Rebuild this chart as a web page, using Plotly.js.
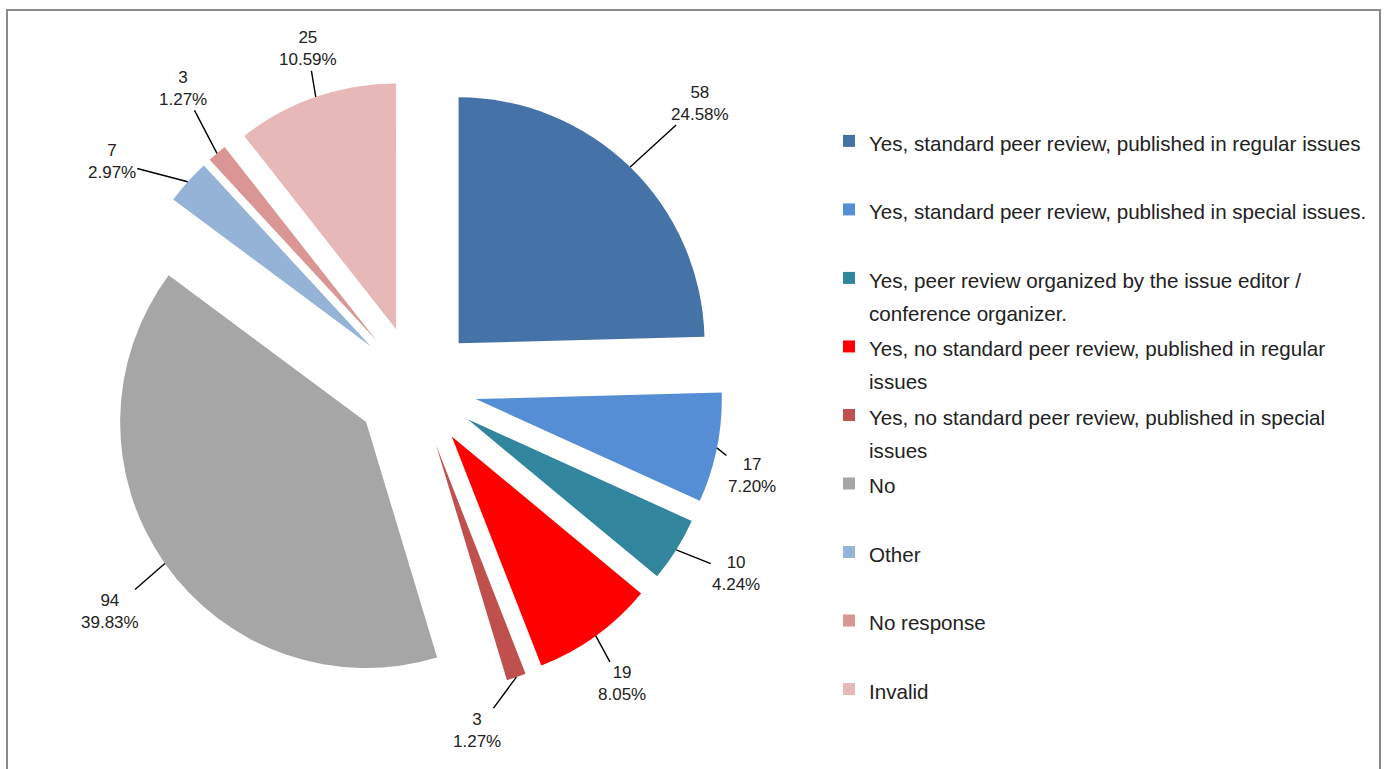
<!DOCTYPE html>
<html>
<head>
<meta charset="utf-8">
<script src="https://cdn.plot.ly/plotly-3.0.1.min.js"></script>
<style>html,body{margin:0;padding:0;background:#fff;}#chart{width:1384px;height:769px;}</style>
</head>
<body>
<div id="chart"></div>
<script>
// ---- data ----
const categories = [
  "Yes, standard peer review, published in regular issues",
  "Yes, standard peer review, published in special issues.",
  "Yes, peer review organized by the issue editor /<br>conference organizer.",
  "Yes, no standard peer review, published in regular<br>issues",
  "Yes, no standard peer review, published in special<br>issues",
  "No",
  "Other",
  "No response",
  "Invalid"
];
const counts = [58, 17, 10, 19, 3, 94, 7, 3, 25];
const colors = ["#4572A7", "#558ED5", "#31859C", "#FF0000", "#C0504D", "#A6A6A6", "#95B3D7", "#D99694", "#E6B9B8"];

// ---- layout settings ----
const W = 1384, H = 769;
const dom = {x: [0.0788, 0.5224], y: [0.0975, 0.8960]};
const pull = 0.248;
// label placement offsets (px) relative to slice edge
const labelOffsets = [[70,-64],[35,28],[60,24],[26,48],[-39,53],[-55,48],[-76,-20],[-34,-65],[-8,-48]];
const FONT = "Liberation Sans, Arial, sans-serif";

const total = counts.reduce((a, b) => a + b, 0);
const boxW = W * (dom.x[1] - dom.x[0]), boxH = H * (dom.y[1] - dom.y[0]);
const r = Math.min(boxW, boxH) / 2 / (1 + pull);
const cx = W * (dom.x[0] + dom.x[1]) / 2;
const cy = H * (1 - (dom.y[0] + dom.y[1]) / 2);

const legendLabels = categories.map(c => {
  const lines = c.split("<br>");
  if (lines.length < 2) lines.push("&nbsp;");
  return lines.map(l => '<span style="font-size:20.6px">' + l + '</span>').join("<br>");
});

const annotations = [];
let cum = 0;
counts.forEach((v, i) => {
  const mid = (cum + v / 2) / total * 2 * Math.PI;
  cum += v;
  const rr = r * (1 + pull);
  const px = cx + rr * Math.sin(mid);
  const py = cy - rr * Math.cos(mid);
  annotations.push({
    xref: "paper", yref: "paper",
    x: px / W, y: 1 - py / H,
    text: v + "<br>" + (v / total * 100).toFixed(2) + "%",
    showarrow: true, arrowhead: 0, arrowwidth: 1.4, arrowcolor: "#000",
    ax: labelOffsets[i][0], ay: labelOffsets[i][1],
    standoff: 0,
    font: {family: FONT, size: 17, color: "#222"},
    align: "center"
  });
});

const trace = {
  type: "pie",
  labels: legendLabels,
  values: counts,
  sort: false,
  direction: "clockwise",
  rotation: 0,
  pull: pull,
  domain: dom,
  marker: {colors: colors, line: {width: 0}},
  textinfo: "none",
  hoverinfo: "none"
};

const layout = {
  width: W, height: H,
  margin: {l: 0, r: 0, t: 0, b: 0},
  paper_bgcolor: "#ffffff",
  font: {family: FONT, color: "#222"},
  showlegend: true,
  legend: {
    x: 0.599, y: 1 - 118 / H, xanchor: "left", yanchor: "top",
    font: {family: FONT, size: 25.2, color: "#222"},
    valign: "top",
    bgcolor: "rgba(0,0,0,0)"
  },
  annotations: annotations,
  shapes: [{
    type: "rect", xref: "paper", yref: "paper",
    x0: 7 / W, x1: 1380 / W, y0: -0.05, y1: 1 - 10 / H,
    line: {color: "#8a8a8a", width: 2}, fillcolor: "rgba(0,0,0,0)"
  }]
};

Plotly.newPlot("chart", [trace], layout, {displayModeBar: false, staticPlot: true});
</script>
</body>
</html>
